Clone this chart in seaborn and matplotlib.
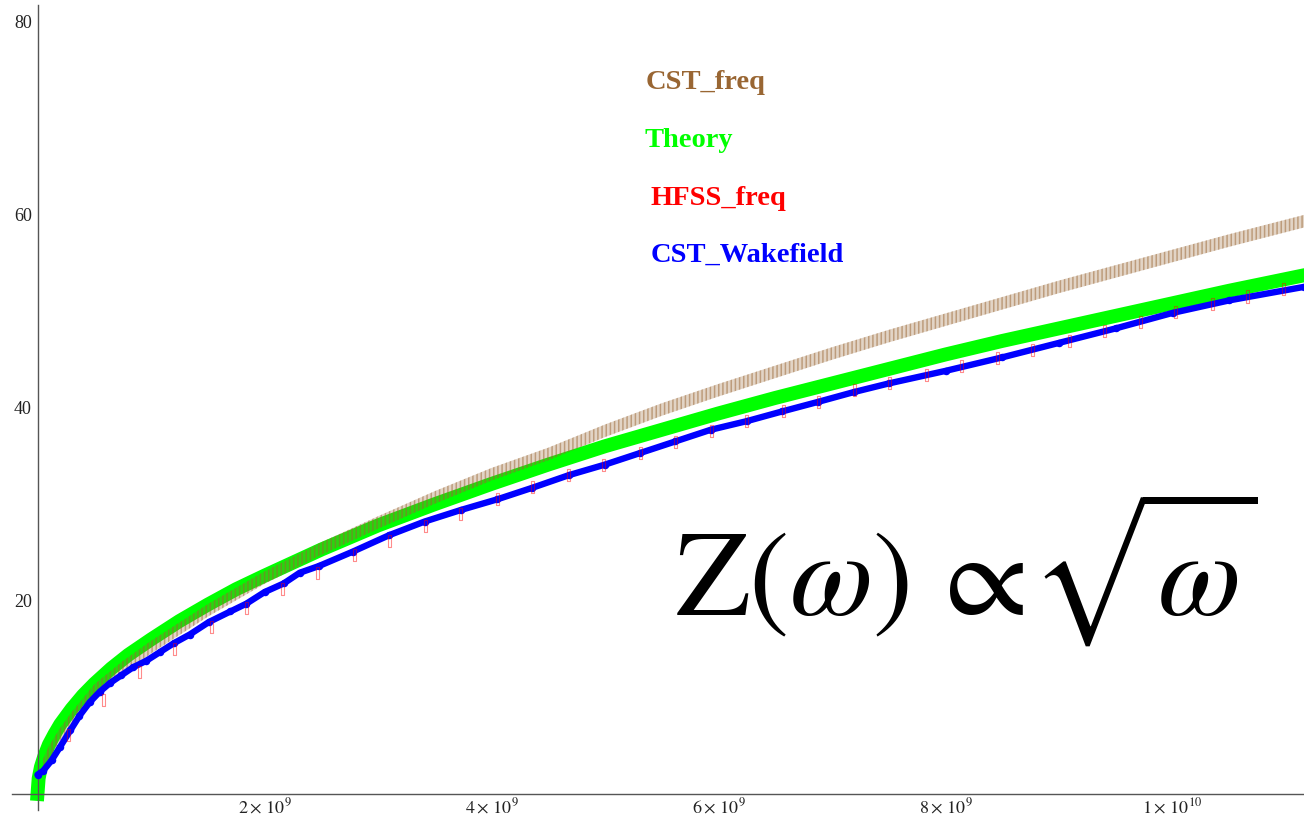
import matplotlib
matplotlib.use("Agg")
import matplotlib.pyplot as plt
import seaborn as sns
from matplotlib.ticker import FixedLocator, MultipleLocator

# ---------------- data (frequency in units of 1e9 Hz) ----------------
theory_f = [0, 0.01, 0.03, 0.06, 0.1, 0.15, 0.2, 0.3, 0.4, 0.5, 0.65, 0.8, 1.0, 1.25, 1.5,
            1.75, 2.0, 2.5, 3.0, 3.5, 4.0, 4.5, 5.0, 5.5, 6.0, 6.5, 7.0, 7.5, 8.0, 8.5,
            9.0, 9.5, 10.0, 10.5, 11.16]
theory_z = [0, 1.6, 2.8, 3.9, 5.1, 6.2, 7.2, 8.8, 10.2, 11.4, 13.0, 14.4, 16.0, 17.9, 19.6,
            21.2, 22.6, 25.3, 27.8, 30.0, 32.1, 34.1, 36.0, 37.7, 39.4, 41.0, 42.5, 44.0, 45.5, 46.9,
            48.2, 49.5, 50.8, 52.1, 53.7]

cst_freq_f = [0.05, 0.1, 0.2, 0.3, 0.5, 0.75, 1.0, 1.5, 2.0, 2.5, 3.0, 3.5, 4.0, 4.5, 5.0,
              5.5, 6.0, 6.5, 7.0, 7.5, 8.0, 8.5, 9.0, 9.5, 10.0, 10.5, 11.16]
cst_freq_z = [3.0, 4.3, 6.2, 7.8, 10.7, 13.1, 15.2, 19.0, 22.4, 25.4, 28.1, 30.7, 33.1, 35.2, 37.6,
              39.8, 41.8, 43.7, 45.6, 47.4, 49.1, 50.8, 52.5, 54.1, 55.7, 57.3, 59.3]

hfss_f = [0.27, 0.58, 0.90, 1.21, 1.53, 1.84, 2.16, 2.47, 2.79, 3.10, 3.42, 3.73, 4.05, 4.36,
          4.68, 4.99, 5.31, 5.62, 5.94, 6.25, 6.57, 6.88, 7.20, 7.51, 7.83, 8.14, 8.46, 8.77,
          9.09, 9.40, 9.72, 10.03, 10.35, 10.66, 10.98]
hfss_z = [6.1, 9.7, 12.6, 15.0, 17.3, 19.3, 21.2, 22.9, 24.7, 26.2, 27.7, 29.0, 30.5, 31.8,
          33.0, 34.1, 35.3, 36.4, 37.6, 38.6, 39.6, 40.6, 41.8, 42.5, 43.4, 44.3, 45.1, 46.0,
          46.9, 47.9, 48.9, 49.9, 50.7, 51.5, 52.3]

wake_f = [0.0, 0.05, 0.125, 0.2, 0.29, 0.37, 0.46, 0.55, 0.64, 0.74, 0.84, 0.96, 1.08, 1.2,
          1.34, 1.51, 1.7, 1.84, 2.0, 2.17, 2.31, 2.48, 2.78, 3.1, 3.41, 3.73, 4.05, 4.36, 4.68,
          5.0, 5.31, 5.62, 5.93, 6.25, 6.56, 6.88, 7.19, 7.5, 8.0, 8.5, 9.0, 9.5, 10.0, 10.5, 11.16]
wake_z = [2.0, 2.4, 3.5, 4.9, 6.6, 8.1, 9.5, 10.6, 11.5, 12.3, 13.1, 13.8, 14.7, 15.6,
          16.5, 17.8, 18.9, 19.7, 20.9, 21.8, 22.9, 23.6, 25.1, 26.8, 28.2, 29.4, 30.5, 31.7, 33.0,
          34.1, 35.3, 36.5, 37.7, 38.6, 39.6, 40.6, 41.6, 42.5, 43.8, 45.2, 46.7, 48.2, 49.8, 51.1, 52.5]

x_tick_vals = [2, 4, 6, 8, 10]
x_tick_labels = [r"$2\times\,10^{9}$", r"$4\times\,10^{9}$", r"$6\times\,10^{9}$",
                 r"$8\times\,10^{9}$", r"$1\times\,10^{10}$"]
y_tick_vals = [20, 40, 60, 80]
y_tick_labels = ["20", "40", "60", "80"]

series_names = ["CST_freq", "Theory", "HFSS_freq", "CST_Wakefield"]
series_colors = ["#996633", "#00FF00", "#FF0000", "#0000FF"]
formula_text = r"$\mathrm{Z}(\omega)\,\propto\!\sqrt{\omega}$"

# ---------------- style ----------------
sns.set_style("white")
plt.rcParams["font.family"] = ["Liberation Serif", "DejaVu Serif"]
plt.rcParams["mathtext.fontset"] = "stix"
plt.rcParams["hatch.linewidth"] = 1.1

W, H = 1304, 822
fig = plt.figure(figsize=(W / 100, H / 100), dpi=100)
ax = fig.add_axes([12 / W, 12 / H, (W - 12) / W, 805 / H])

# Theory (thick green)
sns.lineplot(x=theory_f, y=theory_z, color=series_colors[1], linewidth=10, ax=ax,
             zorder=2, solid_capstyle="projecting", errorbar=None)

# CST_freq (tan hatched bars)
lo = [v - 0.65 for v in cst_freq_z]
hi = [v + 0.65 for v in cst_freq_z]
ax.fill_between(cst_freq_f, lo, hi, facecolor=(0.6, 0.4, 0.2, 0.28),
                edgecolor=(0.6, 0.4, 0.2, 0.5), hatch="||||", linewidth=0, zorder=3)

# CST_Wakefield (blue dots)
sns.lineplot(x=wake_f, y=wake_z, color=series_colors[3], linewidth=4.6, marker="o",
             markersize=5.4, markeredgewidth=0, ax=ax, zorder=4, errorbar=None)

# HFSS_freq (red outlined boxes)
rect = [(-1, -4), (1, -4), (1, 4), (-1, 4), (-1, -4)]
sns.scatterplot(x=hfss_f, y=hfss_z, marker=rect, s=75, color=series_colors[2], ax=ax,
                zorder=5)
coll = ax.collections[-1]
coll.set_facecolor("none")
coll.set_edgecolor((1, 0, 0, 0.45))
coll.set_linewidth(0.8)

# ---------------- axes ----------------
ax.set_xlim((12 - 37.5) / 113.5, (W - 37.5) / 113.5)
ax.set_ylim((794 - 810) / 9.66, (794 - 5) / 9.66)
ax.set_xlabel("")
ax.set_ylabel("")
for s in ["top", "right"]:
    ax.spines[s].set_visible(False)
for s in ["left", "bottom"]:
    ax.spines[s].set_position(("data", 0))
    ax.spines[s].set_color("#555555")
    ax.spines[s].set_linewidth(1.0)

ax.xaxis.set_major_locator(FixedLocator(x_tick_vals))
ax.set_xticklabels(x_tick_labels)
ax.xaxis.set_minor_locator(MultipleLocator(0.5))
ax.yaxis.set_major_locator(FixedLocator(y_tick_vals))
ax.set_yticklabels(y_tick_labels)
ax.yaxis.set_minor_locator(MultipleLocator(5))
ax.tick_params(which="both", direction="in", color="#555555", width=0.9,
               labelcolor="#222222", labelsize=13)
ax.tick_params(which="major", length=4)
ax.tick_params(which="minor", length=2.3)
ax.tick_params(axis="y", pad=4)
ax.tick_params(axis="x", pad=2)
ax.grid(False)

# ---------------- labels ----------------
label_pos = [(5.36, 73.0), (5.345, 67.0), (5.40, 61.0), (5.405, 55.1)]
for name, col, (lx, ly) in zip(series_names, series_colors, label_pos):
    ax.text(lx, ly, name, color=col, fontsize=20.5, fontweight="bold",
            ha="left", va="baseline", zorder=6)

ax.text(5.62, 18.6, formula_text, fontsize=87, color="black", ha="left",
        va="baseline", zorder=6)

fig.savefig("out.png", dpi=100)
